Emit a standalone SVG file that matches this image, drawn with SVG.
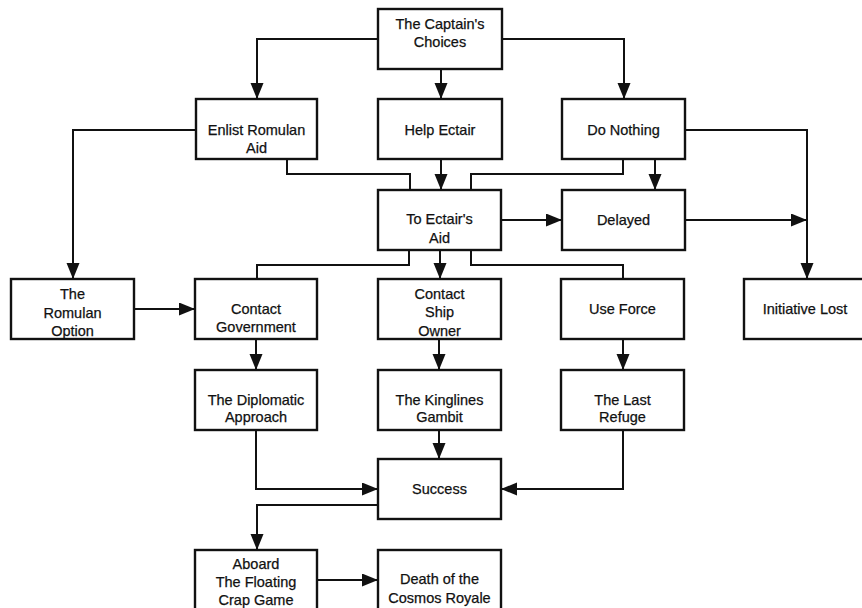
<svg xmlns="http://www.w3.org/2000/svg" width="862" height="608" viewBox="0 0 862 608">
<style>
.box{fill:#fff;stroke:#111;stroke-width:2.4}
.t{font-family:"Liberation Sans",Arial,sans-serif;font-size:14.5px;fill:#111;stroke:#111;stroke-width:0.25;text-anchor:middle}
.c{fill:none;stroke:#111;stroke-width:2}
.a{marker-end:url(#ah)}
</style>
<defs>
<marker id="ah" markerUnits="userSpaceOnUse" markerWidth="17" markerHeight="14" refX="16" refY="6.5" orient="auto">
<path d="M0,0 L16,6.5 L0,13 z" fill="#111"/>
</marker>
</defs>
<rect width="862" height="608" fill="#fff"/>
<g id="connectors">
<path class="c a" d="M378,39 H257 V99"/>
<path class="c a" d="M441,69 V99"/>
<path class="c a" d="M502,39 H624 V99"/>
<path class="c a" d="M196,130 H73 V279"/>
<path class="c" d="M287,159 V174 H410 V190"/>
<path class="c a" d="M441,159 V190"/>
<path class="c" d="M623,159 V174 H471 V190"/>
<path class="c a" d="M655,159 V190"/>
<path class="c a" d="M685,130 H807 V279"/>
<path class="c a" d="M501,220 H562"/>
<path class="c a" d="M685,220 H807"/>
<path class="c" d="M409,250 V265 H257 V279"/>
<path class="c a" d="M440,250 V279"/>
<path class="c" d="M471,250 V265 H623 V279"/>
<path class="c a" d="M134,309 H195"/>
<path class="c a" d="M256,339 V370"/>
<path class="c a" d="M439,339 V370"/>
<path class="c a" d="M623,339 V370"/>
<path class="c a" d="M256,430 V489 H378"/>
<path class="c a" d="M439,430 V459"/>
<path class="c a" d="M623,430 V489 H501"/>
<path class="c a" d="M378,505 H257 V550"/>
<path class="c a" d="M317,580 H378"/>
</g>
<g id="captain"><rect class="box" x="378" y="9" width="124" height="60"/><text class="t" x="440" y="29">The Captain's</text><text class="t" x="440" y="47">Choices</text></g>
<g id="enlist"><rect class="box" x="196" y="99" width="121" height="60"/><text class="t" x="256.5" y="135">Enlist Romulan</text><text class="t" x="256.5" y="153">Aid</text></g>
<g id="help"><rect class="box" x="378" y="99" width="124" height="60"/><text class="t" x="440" y="135">Help Ectair</text></g>
<g id="nothing"><rect class="box" x="562" y="99" width="123" height="60"/><text class="t" x="623.5" y="135">Do Nothing</text></g>
<g id="toaid"><rect class="box" x="378" y="190" width="123" height="60"/><text class="t" x="439.5" y="224">To Ectair's</text><text class="t" x="439.5" y="243">Aid</text></g>
<g id="delayed"><rect class="box" x="562" y="190" width="123" height="60"/><text class="t" x="623.5" y="225">Delayed</text></g>
<g id="romulan"><rect class="box" x="11" y="279" width="123" height="60"/><text class="t" x="72.5" y="299">The</text><text class="t" x="72.5" y="318">Romulan</text><text class="t" x="72.5" y="336">Option</text></g>
<g id="government"><rect class="box" x="195" y="279" width="122" height="60"/><text class="t" x="256" y="314">Contact</text><text class="t" x="256" y="332">Government</text></g>
<g id="shipowner"><rect class="box" x="378" y="279" width="123" height="60"/><text class="t" x="439.5" y="299">Contact</text><text class="t" x="439.5" y="317">Ship</text><text class="t" x="439.5" y="336">Owner</text></g>
<g id="force"><rect class="box" x="561" y="279" width="123" height="60"/><text class="t" x="622.5" y="314">Use Force</text></g>
<g id="lost"><rect class="box" x="744" y="279" width="124" height="60"/><text class="t" x="805" y="314">Initiative Lost</text></g>
<g id="diplomatic"><rect class="box" x="195" y="370" width="122" height="60"/><text class="t" x="256" y="405">The Diplomatic</text><text class="t" x="256" y="422">Approach</text></g>
<g id="kinglines"><rect class="box" x="378" y="370" width="123" height="60"/><text class="t" x="439.5" y="405">The Kinglines</text><text class="t" x="439.5" y="422">Gambit</text></g>
<g id="refuge"><rect class="box" x="561" y="370" width="123" height="60"/><text class="t" x="622.5" y="405">The Last</text><text class="t" x="622.5" y="422">Refuge</text></g>
<g id="success"><rect class="box" x="378" y="459" width="123" height="60"/><text class="t" x="439.5" y="494">Success</text></g>
<g id="aboard"><rect class="box" x="195" y="550" width="122" height="62"/><text class="t" x="256" y="569">Aboard</text><text class="t" x="256" y="587">The Floating</text><text class="t" x="256" y="605">Crap Game</text></g>
<g id="death"><rect class="box" x="378" y="550" width="123" height="62"/><text class="t" x="439.5" y="584">Death of the</text><text class="t" x="439.5" y="603">Cosmos Royale</text></g>
</svg>
